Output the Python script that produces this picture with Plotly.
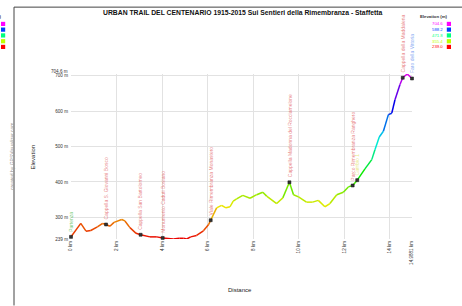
import colorsys
import plotly.graph_objects as go

# ---------------- data ----------------
title_text = "URBAN TRAIL DEL CENTENARIO 1915-2015 Sui Sentieri della Rimembranza - Staffetta"

distance_km = [0.0, 0.43, 0.66, 0.87, 1.16, 1.39, 1.54, 1.71, 1.89, 2.23, 2.37, 2.59, 2.86,
               3.06, 3.47, 3.77, 4.03, 4.50, 4.76, 4.94, 5.09, 5.26, 5.52, 5.82, 6.04, 6.14,
               6.40, 6.62, 6.81, 6.99, 7.13, 7.28, 7.55, 7.87, 8.16, 8.43, 8.60, 9.04, 9.31,
               9.60, 9.78, 10.0, 10.35, 10.62, 10.87, 11.16, 11.38, 11.68, 11.97, 12.19, 12.38,
               12.58, 12.92, 13.22, 13.36, 13.55, 13.73, 13.95, 14.10, 14.24, 14.46, 14.58,
               14.78, 14.9881]
elevation_m = [245, 283, 261, 263, 273, 283, 280, 275, 286, 294, 290, 271, 255,
               251, 245, 245, 242, 239, 241, 241, 239, 245, 249, 262, 279, 292,
               327, 334, 327, 330, 346, 352, 362, 354, 364, 371, 360, 339, 355,
               399, 364, 358, 343, 343, 348, 330, 339, 364, 371, 386, 390,
               405, 437, 463, 491, 527, 543, 590, 594, 632, 675, 694,
               704.6, 692]

wpt_dist = [0.0, 1.54, 3.06, 4.03, 6.14, 9.60, 12.38, 12.58, 14.58, 14.9881]
wpt_elev = [245, 280, 251, 242, 292, 399, 390, 405, 694, 692]
wpt_name = ["Partenza", "Cappella S. Giovanni Bosco", "Cappella San Bartolomeo",
            "Monumento Caduti Bosiano", "Viale Rimembranza Monastero",
            "Cappella Madonna del Rocciamelone", "Parco Rimembranza Ranghero",
            "Cambio 1", "Cappella della Maddalena", "Faro della Vittoria"]
wpt_color = ["rgba(90,190,90,0.8)", "rgba(225,90,90,0.75)", "rgba(225,90,90,0.75)",
             "rgba(225,90,90,0.75)", "rgba(225,90,90,0.75)", "rgba(225,90,90,0.75)",
             "rgba(225,90,90,0.75)", "rgba(230,230,120,0.9)", "rgba(225,90,90,0.75)",
             "rgba(110,150,240,0.8)"]

x_tick_vals = [0, 2, 4, 6, 8, 10, 12, 14, 14.9881]
x_tick_text = ["0 km", "2 km", "4 km", "6 km", "8 km", "10 km", "12 km", "14 km", "14.9881 km"]
y_tick_vals = [239, 300, 400, 500, 600, 700, 704.6]
y_tick_text = ["239 m", "300 m", "400 m", "500 m", "600 m", "700 m", "704.6 m"]

legend_vals = [704.6, 588.2, 471.8, 355.4, 239.0]

E_MIN, E_MAX = 239.0, 704.6
X_MAX = 14.9881

FONT = "Arial, Liberation Sans, sans-serif"


def elev_color(e, v=0.92):
    t = (e - E_MIN) / (E_MAX - E_MIN)
    t = max(0.0, min(1.0, t))
    h = t * 300.0 / 360.0
    r, g, b = colorsys.hsv_to_rgb(h, 1.0, v)
    return "rgb(%d,%d,%d)" % (r * 255, g * 255, b * 255)


# ---------------- layout geometry (pixels) ----------------
W, H = 462, 306
L, R, T, B = 71, 412, 74.4, 239.5


def px(x):
    return (x - L) / (R - L)


def py(y):
    return (B - y) / (B - T)


fig = go.Figure()

# elevation-coloured profile
for i in range(len(distance_km) - 1):
    emid = (elevation_m[i] + elevation_m[i + 1]) / 2.0
    fig.add_trace(go.Scatter(
        x=distance_km[i:i + 2], y=elevation_m[i:i + 2], mode="lines",
        line=dict(color=elev_color(emid), width=1.5), hoverinfo="skip",
        showlegend=False, cliponaxis=False))

# waypoints
fig.add_trace(go.Scatter(
    x=wpt_dist, y=wpt_elev, mode="markers",
    marker=dict(symbol="square", size=3, color="#333333",
                line=dict(color="#111111", width=0.5)),
    showlegend=False, hoverinfo="skip", cliponaxis=False))

annotations = []
for d, e, n, c in zip(wpt_dist, wpt_elev, wpt_name, wpt_color):
    annotations.append(dict(
        x=d, y=e, xref="x", yref="y", text=n, textangle=-90, showarrow=False,
        xanchor="center", yanchor="bottom", yshift=3,
        font=dict(family=FONT, size=5, color=c)))

# top y tick label (drawn slightly above its gridline so it does not collide with "700 m")
tick_font = dict(family=FONT, size=4.6, color="#333333")
shown_tick_text = [t if v != E_MAX else "" for v, t in zip(y_tick_vals, y_tick_text)]
annotations.append(dict(x=0, y=E_MAX, xref="paper", yref="y", text=y_tick_text[-1],
                        showarrow=False, xanchor="right", yanchor="middle",
                        xshift=-1, yshift=3, font=tick_font))

# axis titles
annotations.append(dict(x=px(33), y=py(158), xref="paper", yref="paper", text="Elevation",
                        textangle=-90, showarrow=False, xanchor="center", yanchor="middle",
                        font=dict(family=FONT, size=6, color="#222222")))
annotations.append(dict(x=px(240), y=py(291), xref="paper", yref="paper", text="Distance",
                        showarrow=False, xanchor="center", yanchor="middle",
                        font=dict(family=FONT, size=6, color="#222222")))
# title
annotations.append(dict(x=px(242), y=py(13), xref="paper", yref="paper",
                        text="<b>" + title_text + "</b>",
                        showarrow=False, xanchor="center", yanchor="middle",
                        font=dict(family=FONT, size=6.8, color="#111111")))
# credit
annotations.append(dict(x=px(11.5), y=py(157), xref="paper", yref="paper",
                        text="created by GPSVisualizer.com", textangle=-90,
                        showarrow=False, xanchor="center", yanchor="middle",
                        font=dict(family=FONT, size=5, color="#999999")))

shapes = []
# frame lines
shapes.append(dict(type="line", xref="paper", yref="paper", x0=px(14), x1=px(462),
                   y0=py(7.5), y1=py(7.5), line=dict(color="#444444", width=1)))
shapes.append(dict(type="line", xref="paper", yref="paper", x0=px(14), x1=px(14),
                   y0=py(7.5), y1=py(306), line=dict(color="#444444", width=1)))

# legends (right one, and the cut-off one on the left)
row_y = [24.3, 30.0, 35.8, 41.6, 47.3]
for lx_text, lx_sq, show_vals in [(445.5, 446.8, True), (-0.5, 1.0, False)]:
    annotations.append(dict(x=px(lx_text + 4.5), y=py(17.3), xref="paper", yref="paper",
                            text="<b>Elevation (m)</b>", showarrow=False,
                            xanchor="right", yanchor="middle",
                            font=dict(family=FONT, size=4.3, color="#333333")))
    for v, ry in zip(legend_vals, row_y):
        col = elev_color(v, 1.0)
        if show_vals:
            annotations.append(dict(x=px(lx_text), y=py(ry), xref="paper", yref="paper",
                                    text=("%.1f" % v), showarrow=False,
                                    xanchor="right", yanchor="middle",
                                    font=dict(family=FONT, size=4.3, color=col)))
        shapes.append(dict(type="rect", xref="paper", yref="paper",
                           x0=px(lx_sq), x1=px(lx_sq + 4.2), y0=py(ry + 2.1), y1=py(ry - 2.1),
                           fillcolor=col, line=dict(width=0)))

fig.update_layout(
    template="none",
    width=W, height=H, autosize=False,
    margin=dict(l=L, r=W - R, t=T, b=H - B, pad=0),
    paper_bgcolor="white", plot_bgcolor="white",
    font=dict(family=FONT, size=5, color="#333333"),
    showlegend=False,
    annotations=annotations, shapes=shapes,
    xaxis=dict(range=[0, X_MAX], tickvals=x_tick_vals, ticktext=x_tick_text,
               tickangle=-90, showgrid=True, gridcolor="#e2e2e2", gridwidth=1,
               zeroline=False, showline=False, ticks="", ticklen=0, automargin=False,
               tickfont=tick_font),
    yaxis=dict(range=[E_MIN, E_MAX], tickvals=y_tick_vals, ticktext=shown_tick_text,
               showgrid=True, gridcolor="#e2e2e2", gridwidth=1,
               zeroline=False, showline=False, ticks="", ticklen=0, automargin=False,
               ticklabelstandoff=2, tickfont=tick_font),
)

fig.write_html(
    "out.html",
    config={"displayModeBar": False, "staticPlot": True},
    post_script="document.body.style.margin='0';document.body.style.padding='0';",
)
